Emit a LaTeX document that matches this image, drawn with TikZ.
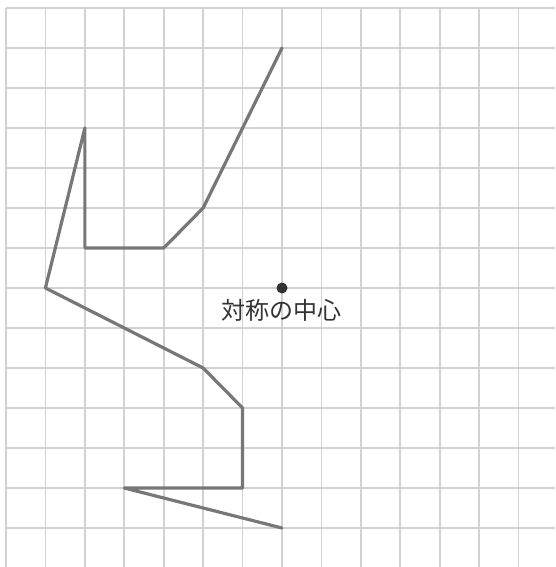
\documentclass[tikz,border=0pt]{standalone}
\usepackage{fontspec}
\newfontfamily\cjk{Noto Sans CJK JP}
\definecolor{gridgray}{HTML}{D2D2D2}
\definecolor{shapegray}{HTML}{777777}
\definecolor{dotgray}{HTML}{333333}
\tikzset{
  gridline/.style={draw=gridgray, line width=1.8pt},
  figline/.style={draw=shapegray, line width=3.2pt, line join=round, line cap=round},
  centerdot/.style={circle, fill=dotgray, inner sep=0pt, minimum size=11pt},
  labeltext/.style={font=\cjk\fontsize{24}{28}\selectfont, text=dotgray, inner sep=0pt}
}
\begin{document}
\begin{tikzpicture}[x=1pt, y=-1pt]
\useasboundingbox (0,0) rectangle (555,567);
\begin{scope}
\clip (0,0) rectangle (555,567);
\foreach \k in {0,...,13} {
  \draw[gridline] ({6+39.43*\k},8) -- ({6+39.43*\k},567);
  \draw[gridline] (6,{8+40*\k}) -- (555,{8+40*\k});
}
\end{scope}
% grid points: column c -> x = 6 + 39.43 c, row r -> y = 8 + 40 r
\coordinate (p1) at ({6+39.43*7},{8+40*1});
\coordinate (p2) at ({6+39.43*5},{8+40*5});
\coordinate (p3) at ({6+39.43*4},{8+40*6});
\coordinate (p4) at ({6+39.43*2},{8+40*6});
\coordinate (p5) at ({6+39.43*2},{8+40*3});
\coordinate (p6) at ({6+39.43*1},{8+40*7});
\coordinate (p7) at ({6+39.43*5},{8+40*9});
\coordinate (p8) at ({6+39.43*6},{8+40*10});
\coordinate (p9) at ({6+39.43*6},{8+40*12});
\coordinate (p10) at ({6+39.43*3},{8+40*12});
\coordinate (p11) at ({6+39.43*7},{8+40*13});
\draw[figline] (p1) -- (p2) -- (p3) -- (p4) -- (p5) -- (p6) -- (p7) -- (p8) -- (p9) -- (p10) -- (p11);
\node[centerdot] (center) at ({6+39.43*7},{8+40*7}) {};
\node[labeltext] (label) at (281,310) {対称の中心};
\end{tikzpicture}
\end{document}
